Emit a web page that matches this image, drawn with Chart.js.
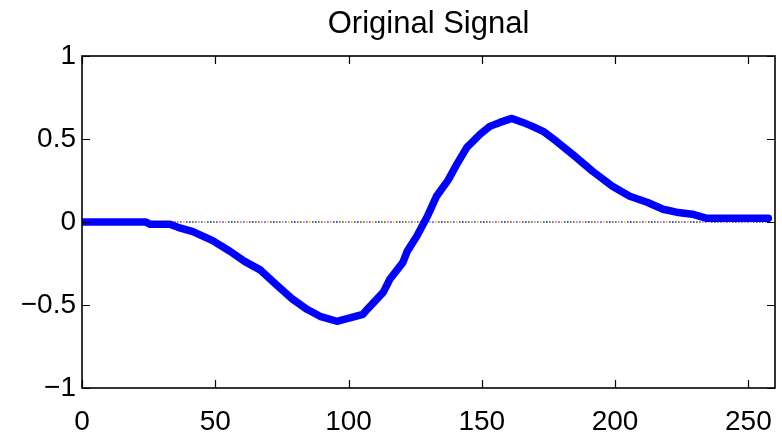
<!DOCTYPE html>
<html>
<head>
<meta charset="utf-8">
<script src="https://cdn.jsdelivr.net/npm/chart.js@4"></script>
<style>
html,body{margin:0;padding:0;background:#fff;}
#wrap{width:782px;height:435px;}
</style>
</head>
<body>
<div id="wrap"><canvas id="c" width="782" height="435"></canvas></div>
<script>
const titleText = "Original Signal";
const xTicks = [0, 50, 100, 150, 200, 250];
const yTicks = [-1, -0.5, 0, 0.5, 1];
const xRange = [0, 260];
const yRange = [-1, 1];
const sigX = [0, 24, 25.5, 33, 36, 41.6, 49, 55.5, 61, 67, 72.4, 79, 84.4, 89.3, 95.6, 100.5, 105.4, 107, 113, 115.5, 120.4, 122, 125.6, 129.4, 133, 137.3, 140.6, 144.4, 149.3, 153, 156.8, 161.3, 165.4, 169, 173, 178, 184, 191.6, 199, 205.5, 212, 218, 223, 229, 234.4, 257.5];
const sigY = [0, 0, -0.014, -0.014, -0.032, -0.058, -0.112, -0.176, -0.237, -0.29, -0.37, -0.465, -0.526, -0.568, -0.598, -0.578, -0.556, -0.526, -0.424, -0.345, -0.243, -0.177, -0.086, 0.028, 0.155, 0.251, 0.347, 0.45, 0.528, 0.576, 0.6, 0.624, 0.6, 0.576, 0.546, 0.486, 0.408, 0.305, 0.215, 0.155, 0.119, 0.077, 0.059, 0.047, 0.022, 0.022];
const zeroX = [0, 258];
const zeroY = [0, 0];

// dotted multicolour pattern (MATLAB colour order)
const dotColors = ['#0000ff', '#008000', '#ff0000', '#00bfbf', '#bf00bf', '#bfbf00', '#404040'];
const pc = document.createElement('canvas');
pc.width = dotColors.length * 3; pc.height = 4;
const pctx = pc.getContext('2d');
dotColors.forEach((c, i) => { pctx.fillStyle = c; pctx.fillRect(i * 3, 0, 1.6, 4); });
const ctx = document.getElementById('c').getContext('2d');
const dotPattern = ctx.createPattern(pc, 'repeat');

const FAMILY = "'Liberation Sans', Arial, Helvetica, sans-serif";
const FONT = { family: FAMILY, size: 28 };

const framePlugin = {
  id: 'frame',
  afterDatasetsDraw(chart) {
    const { ctx, chartArea: a, scales } = chart;
    ctx.save();
    ctx.strokeStyle = '#000';
    ctx.lineWidth = 1.6;
    ctx.strokeRect(a.left, a.top, a.right - a.left, a.bottom - a.top);
    const L = 8;
    ctx.beginPath();
    xTicks.forEach(v => {
      const p = Math.round(scales.x.getPixelForValue(v)) + 0.5;
      ctx.moveTo(p, a.bottom); ctx.lineTo(p, a.bottom - L);
      ctx.moveTo(p, a.top); ctx.lineTo(p, a.top + L);
    });
    yTicks.forEach(v => {
      const p = Math.round(scales.y.getPixelForValue(v)) + 0.5;
      ctx.moveTo(a.left, p); ctx.lineTo(a.left + L, p);
      ctx.moveTo(a.right, p); ctx.lineTo(a.right - L, p);
    });
    ctx.lineWidth = 1.2;
    ctx.stroke();
    ctx.restore();
  }
};

new Chart(ctx, {
  type: 'scatter',
  data: {
    datasets: [
      {
        label: 'signal',
        data: sigX.map((x, i) => ({ x, y: sigY[i] })),
        showLine: true,
        borderColor: '#0000ff',
        backgroundColor: '#0000ff',
        borderWidth: 7.5,
        borderJoinStyle: 'round',
        borderCapStyle: 'round',
        pointRadius: 0,
        tension: 0,
        order: 0
      },
      {
        label: 'zero',
        data: zeroX.map((x, i) => ({ x, y: zeroY[i] })),
        showLine: true,
        borderColor: dotPattern,
        borderWidth: 1.6,
        pointRadius: 0,
        order: 1
      }
    ]
  },
  options: {
    responsive: false,
    animation: false,
    layout: { padding: { left: 0, right: 7, top: 0, bottom: 0 } },
    plugins: {
      legend: { display: false },
      tooltip: { enabled: false },
      title: {
        display: true,
        text: titleText,
        fullSize: false,
        color: '#000',
        font: { family: FAMILY, size: 31, weight: 'normal' },
        padding: { top: 6, bottom: 12.8 }
      }
    },
    scales: {
      x: {
        type: 'linear',
        min: xRange[0], max: xRange[1],
        grid: { display: false, drawTicks: false },
        border: { display: false },
        afterBuildTicks: s => { s.ticks = xTicks.map(v => ({ value: v })); },
        afterFit: s => { s.height = 47; s.paddingLeft = 0; s.paddingRight = 0; },
        ticks: { color: '#000', font: FONT, padding: 17, maxRotation: 0, autoSkip: false }
      },
      y: {
        type: 'linear',
        min: yRange[0], max: yRange[1],
        grid: { display: false, drawTicks: false },
        border: { display: false },
        afterBuildTicks: s => { s.ticks = yTicks.map(v => ({ value: v })); },
        afterFit: s => { s.width = 82; s.paddingTop = 0; s.paddingBottom = 0; },
        ticks: {
          color: '#000', font: FONT, padding: 6, autoSkip: false,
          callback: v => String(v).replace('-', '\u2212')
        }
      }
    }
  },
  plugins: [framePlugin]
});
</script>
</body>
</html>
